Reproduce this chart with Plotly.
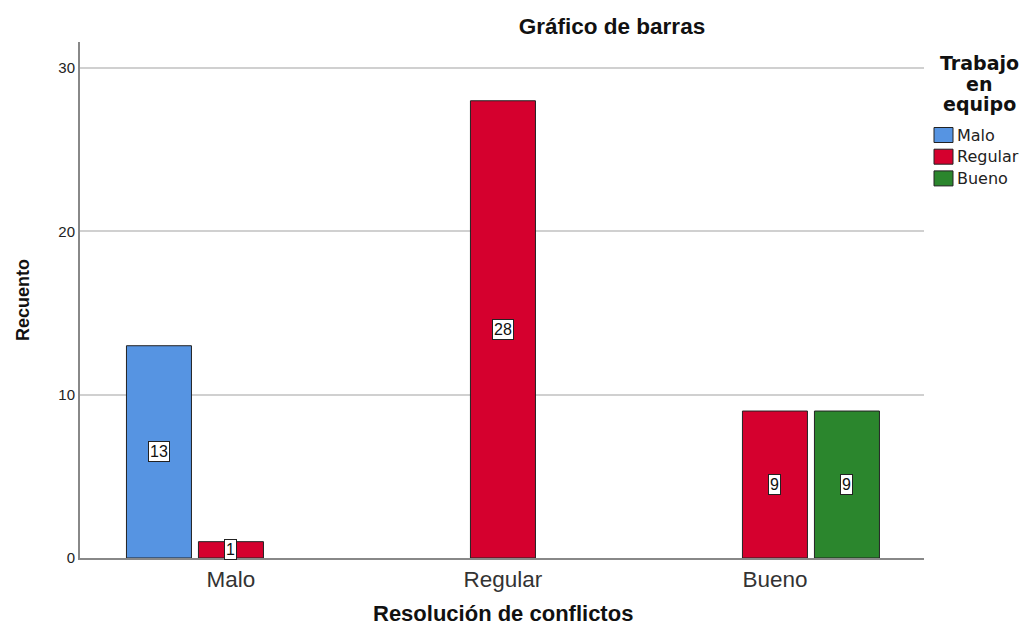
import plotly.graph_objects as go

categories = ["Malo", "Regular", "Bueno"]
series_names = ["Malo", "Regular", "Bueno"]
malo_vals = [13, 0, 0]
regular_vals = [1, 28, 9]
bueno_vals = [0, 0, 9]
colors = ["#5694E2", "#D5002E", "#2B862D"]
legend_title_lines = ["Trabajo", "en", "equipo"]
x_title = "Resolución de conflictos"

series_vals = [malo_vals, regular_vals, bueno_vals]

slot = 0.2647
bar_w = 0.239
font = "Liberation Sans, Arial, sans-serif"
wide = "DejaVu Sans, Verdana, sans-serif"

W, H = 1024, 629
L, R, T, B = 80, 100, 42, 71
pw, ph = W - L - R, H - T - B


def px_x(sx):
    return (sx - L) / pw


def px_y(sy):
    return (H - B - sy) / ph


fig = go.Figure()
annotations = []
shapes = []
xs = list(range(len(categories)))
for k, (name, vals, col) in enumerate(zip(series_names, series_vals, colors)):
    off = (k - 1) * slot
    fig.add_trace(go.Bar(
        x=xs,
        y=[v if v else None for v in vals],
        name=name,
        width=bar_w,
        offset=off - bar_w / 2,
        marker=dict(color=col, line=dict(color="#222222", width=1)),
        hoverinfo="y",
        showlegend=False,
    ))
    for i, v in enumerate(vals):
        if v:
            annotations.append(dict(
                x=i + off, y=v / 2, xref="x", yref="y", text=str(v),
                showarrow=False, bgcolor="white", bordercolor="#222222",
                borderwidth=1, borderpad=1,
                font=dict(family=font, size=16, color="#111111"),
            ))
    # legend entry (swatch + label)
    cy = 135 + k * 21.7
    shapes.append(dict(
        type="rect", xref="paper", yref="paper",
        x0=px_x(934), x1=px_x(953), y0=px_y(cy + 7.5), y1=px_y(cy - 7.5),
        fillcolor=col, line=dict(color="#222222", width=1),
    ))
    annotations.append(dict(
        x=px_x(955.5), y=px_y(cy), xref="paper", yref="paper", text=name,
        showarrow=False, xanchor="left", yanchor="middle",
        font=dict(family=wide, size=16, color="#222222"),
    ))

for j, line in enumerate(legend_title_lines):
    annotations.append(dict(
        x=px_x(979), y=px_y(63 + j * 20.5), xref="paper", yref="paper",
        text="<b>" + line + "</b>",
        showarrow=False, xanchor="center", yanchor="middle",
        font=dict(family=wide, size=19, color="#111111"),
    ))

# x axis title
annotations.append(dict(
    x=px_x(503), y=px_y(628), xref="paper", yref="paper",
    text="<b>" + x_title + "</b>", showarrow=False,
    xanchor="center", yanchor="bottom",
    font=dict(family=font, size=22, color="#111111"),
))

fig.update_layout(
    width=W, height=H,
    margin=dict(l=L, r=R, t=T, b=B, autoexpand=False),
    paper_bgcolor="white", plot_bgcolor="white",
    barmode="overlay",
    showlegend=False,
    title=dict(text="<b>Gráfico de barras</b>", x=612 / W, xanchor="center",
               y=1 - 26 / H, yanchor="middle",
               font=dict(family=font, size=22.5, color="#111111")),
    xaxis=dict(
        range=[-0.555, 2.548], tickvals=xs, ticktext=categories,
        showgrid=False, zeroline=False, showline=True, linecolor="#888888",
        linewidth=2, ticks="", ticklabelstandoff=0, automargin=False,
        tickfont=dict(family=font, size=22.5, color="#333333"),
    ),
    yaxis=dict(
        range=[0, 31.6], tickvals=[0, 10, 20, 30], automargin=False,
        showgrid=True, gridcolor="#D0D0D0", gridwidth=2, zeroline=False,
        showline=True, linecolor="#888888", linewidth=2, ticks="",
        tickfont=dict(family=font, size=15, color="#222222"),
        title=dict(text="<b>Recuento</b>", standoff=24,
                   font=dict(family=font, size=18, color="#111111")),
    ),
    shapes=shapes,
    annotations=annotations,
)

fig.write_html("out.html", config={"displayModeBar": False},
               post_script="document.body.style.margin='0';")
